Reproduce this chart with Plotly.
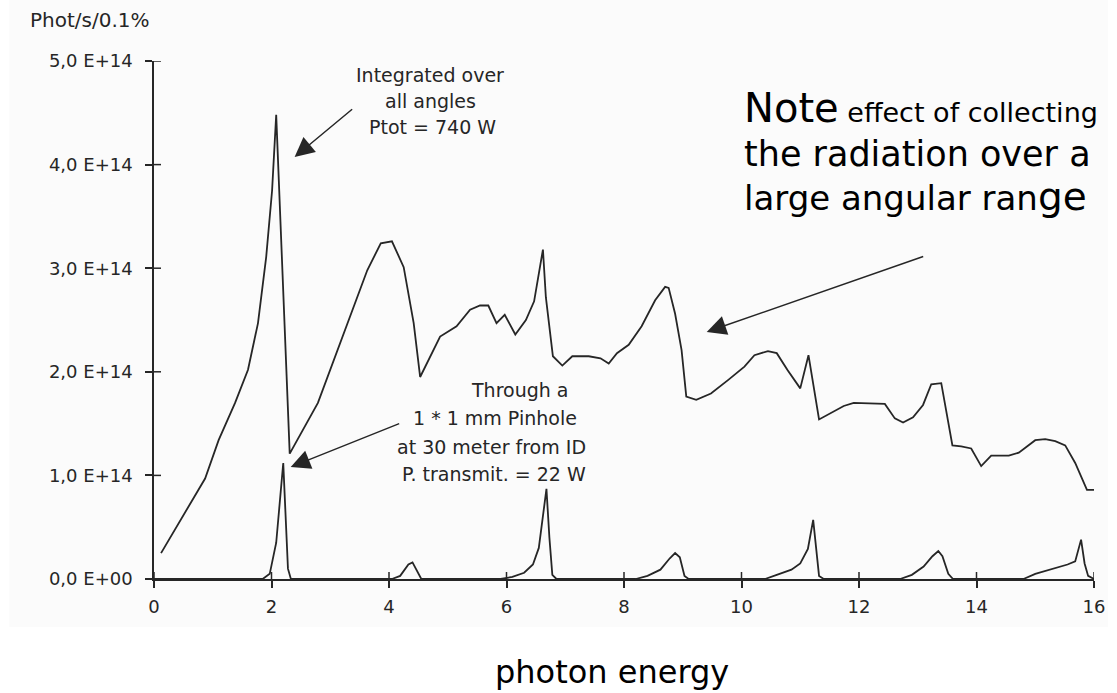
import plotly.graph_objects as go

# ---------------- data ----------------
energy_total = [0.12, 0.45, 0.87, 1.10, 1.38, 1.60, 1.77, 1.91, 2.01, 2.08, 2.31, 2.79, 3.29, 3.63,
                3.86, 4.05, 4.25, 4.42, 4.53, 4.87, 5.15, 5.38, 5.55, 5.69, 5.83, 5.97, 6.15, 6.33,
                6.47, 6.62, 6.67, 6.79, 6.95, 7.12, 7.40, 7.60, 7.74, 7.88, 8.08, 8.30, 8.53, 8.70,
                8.76, 8.87, 8.98, 9.06, 9.23, 9.48, 9.77, 10.05, 10.22, 10.45, 10.60, 10.78, 11.00,
                11.14, 11.32, 11.51, 11.74, 11.91, 12.44, 12.61, 12.75, 12.92, 13.09, 13.23, 13.40,
                13.59, 13.74, 13.91, 14.08, 14.25, 14.55, 14.72, 15.00, 15.17, 15.34, 15.51, 15.68,
                15.88, 16.02]
flux_total = [0.25, 0.57, 0.97, 1.34, 1.70, 2.02, 2.47, 3.11, 3.75, 4.48, 1.21, 1.70, 2.47, 2.98,
              3.24, 3.26, 3.01, 2.47, 1.95, 2.34, 2.44, 2.60, 2.64, 2.64, 2.47, 2.55, 2.36, 2.50,
              2.68, 3.18, 2.72, 2.15, 2.06, 2.15, 2.15, 2.13, 2.08, 2.18, 2.26, 2.44, 2.69, 2.82,
              2.81, 2.56, 2.21, 1.76, 1.73, 1.79, 1.92, 2.05, 2.16, 2.20, 2.18, 2.02, 1.84,
              2.16, 1.54, 1.60, 1.67, 1.70, 1.69, 1.55, 1.51, 1.56, 1.68, 1.88, 1.89,
              1.29, 1.28, 1.26, 1.09, 1.19, 1.19, 1.22, 1.34, 1.35, 1.33, 1.29, 1.12,
              0.86, 0.86]  # x 1E+14

energy_pinhole = [0.0, 1.85, 1.97, 2.08, 2.20, 2.28, 2.33, 4.05, 4.19, 4.33, 4.40, 4.47, 4.55,
                  5.90, 6.10, 6.30, 6.45, 6.55, 6.62, 6.68, 6.73, 6.78, 6.85,
                  8.20, 8.40, 8.62, 8.78, 8.87, 8.95, 9.03, 9.10,
                  10.40, 10.60, 10.85, 11.00, 11.13, 11.22, 11.28, 11.32, 11.40,
                  12.70, 12.90, 13.10, 13.25, 13.35, 13.42, 13.52, 13.60,
                  14.80, 15.00, 15.30, 15.55, 15.68, 15.78, 15.84, 15.90, 16.00]
flux_pinhole = [0.0, 0.0, 0.05, 0.35, 1.12, 0.10, 0.0, 0.0, 0.03, 0.14, 0.16, 0.08, 0.0,
                0.0, 0.02, 0.06, 0.14, 0.30, 0.60, 0.87, 0.40, 0.04, 0.0,
                0.0, 0.03, 0.09, 0.20, 0.25, 0.21, 0.03, 0.0,
                0.0, 0.04, 0.09, 0.15, 0.29, 0.57, 0.25, 0.03, 0.0,
                0.0, 0.04, 0.12, 0.22, 0.27, 0.22, 0.05, 0.0,
                0.0, 0.05, 0.10, 0.14, 0.17, 0.38, 0.15, 0.03, 0.0]  # x 1E+14

x_ticks = [0, 2, 4, 6, 8, 10, 12, 14, 16]
y_ticks = [0, 1e14, 2e14, 3e14, 4e14, 5e14]
y_tick_labels = ["0,0 E+00", "1,0 E+14", "2,0 E+14", "3,0 E+14", "4,0 E+14", "5,0 E+14"]

# ---------------- layout geometry ----------------
W, H = 1117, 693
L, R, T, B = 154, 14, 61, 114


def px(xp):
    return (xp - L) / (W - L - R)


def py(yp):
    return (H - B - yp) / (H - T - B)


INK = "#262626"
FONT = "DejaVu Sans, Liberation Sans, Arial, sans-serif"

fig = go.Figure()
fig.add_trace(go.Scatter(x=energy_total, y=[v * 1e14 for v in flux_total], mode="lines",
                         line=dict(color=INK, width=1.8), showlegend=False, hoverinfo="skip"))
fig.add_trace(go.Scatter(x=energy_pinhole, y=[v * 1e14 for v in flux_pinhole], mode="lines",
                         line=dict(color=INK, width=1.8), showlegend=False, hoverinfo="skip"))

shapes = [
    # scanned page area (very light tone)
    dict(type="rect", xref="paper", yref="paper", x0=px(8), x1=px(W), y0=py(627), y1=py(0),
         fillcolor="#fbfbfb", line=dict(width=0), layer="below"),
]
for t in x_ticks:
    shapes.append(dict(type="line", xref="x", yref="y", x0=t, x1=t, ysizemode="pixel",
                       yanchor=0, y0=0, y1=7, line=dict(color=INK, width=1.5)))
for t in y_ticks:
    shapes.append(dict(type="line", xref="x", yref="y", y0=t, y1=t, xsizemode="pixel",
                       xanchor=0, x0=0, x1=7, line=dict(color=INK, width=1.5)))

ann = []


def text(s, xp, yp, size, anchor="center", color=INK):
    ann.append(dict(text=s, x=px(xp), y=py(yp), xref="paper", yref="paper", showarrow=False,
                    xanchor=anchor, yanchor="middle", font=dict(family=FONT, size=size, color=color)))


text("Phot/s/0.1%", 27, 20, 20, "left")
text("Integrated over", 433, 75, 19)
text("all angles", 433, 101, 19)
text("Ptot = 740 W", 435, 127, 19)
text("Through a", 523, 390, 19)
text("1 * 1 mm Pinhole", 498, 418, 19)
text("at 30 meter from ID", 495, 447, 19)
text("P. transmit. = 22 W", 497, 474, 19)
text('<span style="font-size:40px">Note</span> effect of collecting', 748, 108, 27, "left", "#000")
text("the radiation over a", 748, 154, 35, "left", "#000")
text('large angular ran<span style="font-size:39px">ge</span>', 748, 196, 34, "left", "#000")
text("photon energy", 616, 672, 32, "center", "#000")


def arrow(tip_px, tail_px):
    tx, ty = tip_px
    sx, sy = tail_px
    ann.append(dict(text="", x=px(tx), y=py(ty), xref="paper", yref="paper", showarrow=True,
                    ax=sx - tx, ay=sy - ty, axref="pixel", ayref="pixel", arrowhead=2,
                    arrowsize=2.6, arrowwidth=1.5, arrowcolor=INK, standoff=0))


arrow((296, 157), (355, 108))
arrow((292, 467), (402, 423))
arrow((712, 332), (930, 256))

fig.update_layout(
    width=W, height=H, margin=dict(l=L, r=R, t=T, b=B),
    paper_bgcolor="white", plot_bgcolor="rgba(0,0,0,0)",
    shapes=shapes, annotations=ann,
    xaxis=dict(range=[0, 16], tickvals=x_ticks, ticktext=[str(t) for t in x_ticks],
               showgrid=False, zeroline=False, showline=True, linecolor=INK, linewidth=1.5,
               ticks="outside", ticklen=7, tickwidth=1.5, tickcolor=INK, ticklabelstandoff=4,
               ticklabeloverflow="allow",
               tickfont=dict(family=FONT, size=18, color=INK), fixedrange=True),
    yaxis=dict(range=[0, 5e14], tickvals=y_ticks, ticktext=y_tick_labels,
               showgrid=False, zeroline=False, showline=True, linecolor=INK, linewidth=1.5,
               ticks="outside", ticklen=7, tickwidth=1.5, tickcolor=INK, ticklabelstandoff=9,
               tickfont=dict(family=FONT, size=18, color=INK), fixedrange=True),
)

fig.write_html("out.html")
